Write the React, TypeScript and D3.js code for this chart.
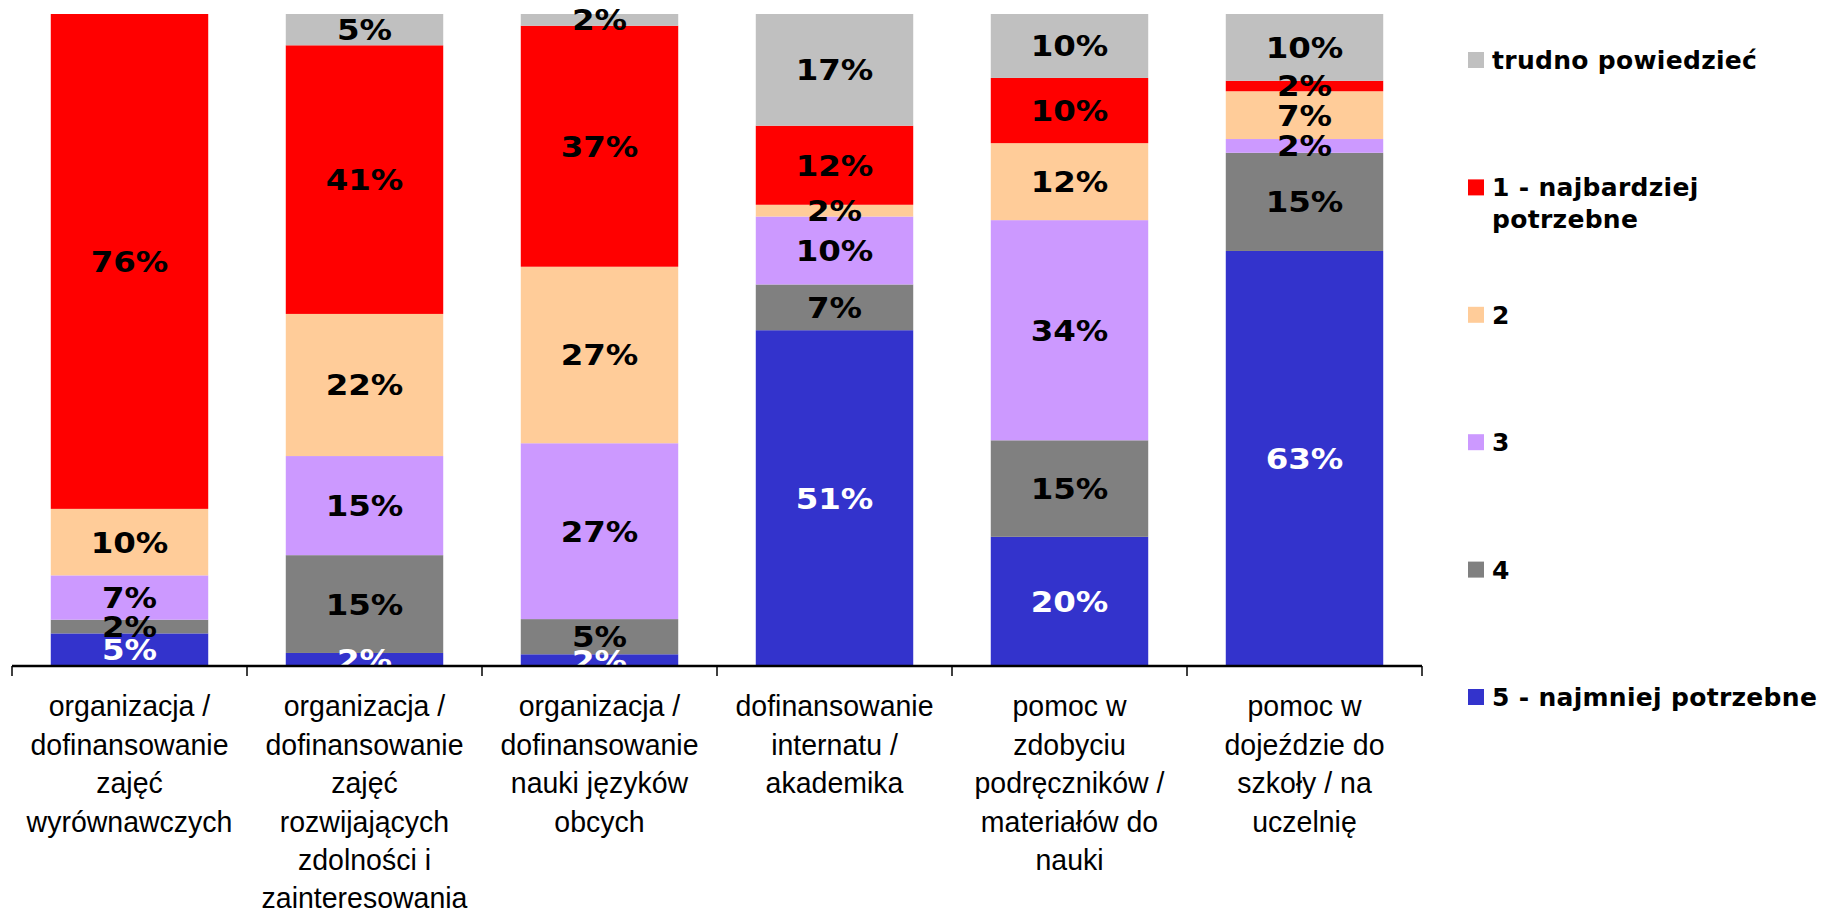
import React from "react";
import * as d3 from "d3";

const categories = [
  "organizacja / dofinansowanie zajęć wyrównawczych",
  "organizacja / dofinansowanie zajęć rozwijających zdolności i zainteresowania",
  "organizacja / dofinansowanie nauki języków obcych",
  "dofinansowanie internatu / akademika",
  "pomoc w zdobyciu podręczników / materiałów do nauki",
  "pomoc w dojeździe do szkoły / na uczelnię",
];

const categoryLines = [
  ["organizacja /", "dofinansowanie", "zajęć", "wyrównawczych"],
  ["organizacja /", "dofinansowanie", "zajęć", "rozwijających", "zdolności i", "zainteresowania"],
  ["organizacja /", "dofinansowanie", "nauki języków", "obcych"],
  ["dofinansowanie", "internatu /", "akademika"],
  ["pomoc w", "zdobyciu", "podręczników /", "materiałów do", "nauki"],
  ["pomoc w", "dojeździe do", "szkoły / na", "uczelnię"],
];

// series, bottom to top
const najmniejPotrzebne5 = [5.0, 2.0, 1.8, 51.4, 19.8, 63.4];
const ocena4 = [2.1, 15.0, 5.4, 7.0, 14.8, 15.0];
const ocena3 = [6.8, 15.2, 27.0, 10.4, 33.75, 2.1];
const ocena2 = [10.2, 21.8, 27.1, 1.8, 11.8, 7.3];
const najbardziejPotrzebne1 = [75.9, 41.2, 37.0, 12.1, 10.0, 1.6];
const trudnoPowiedziec = [0, 4.8, 1.8, 17.1, 9.8, 10.2];

const seriesKeys = ["s5", "s4", "s3", "s2", "s1", "t"];
const seriesValues = [najmniejPotrzebne5, ocena4, ocena3, ocena2, najbardziejPotrzebne1, trudnoPowiedziec];
const seriesNames = ["5 - najmniej potrzebne", "4", "3", "2", "1 - najbardziej potrzebne", "trudno powiedzieć"];
const seriesColors = ["#3333CC", "#808080", "#CC99FF", "#FFCC99", "#FF0000", "#C0C0C0"];
const labelColors = ["#FFFFFF", "#000000", "#000000", "#000000", "#000000", "#000000"];

// legend, top to bottom
const legendOrder = [5, 4, 3, 2, 1, 0];
const legendLines: Record<number, string[]> = {
  5: ["trudno powiedzieć"],
  4: ["1 - najbardziej", "potrzebne"],
  3: ["2"],
  2: ["3"],
  1: ["4"],
  0: ["5 - najmniej potrzebne"],
};

const W = 1825;
const H = 912;
const plotLeft = 12;
const plotRight = 1422;
const plotTop = 14;
const plotBottom = 666;

export default function App() {
  const rows = categories.map((c, i) => {
    const r: any = { cat: c };
    seriesKeys.forEach((k, j) => (r[k] = seriesValues[j][i]));
    return r;
  });
  const stack = d3.stack().keys(seriesKeys).offset(d3.stackOffsetExpand);
  const stacked = stack(rows);

  const x = d3
    .scaleBand()
    .domain(categories)
    .range([plotLeft, plotRight])
    .paddingInner(0.33)
    .paddingOuter(0.165);
  const y = d3.scaleLinear().domain([0, 1]).range([plotBottom, plotTop]);

  const step = x.step();
  const tickXs = categories.map((c) => (x(c) as number) - (step * 0.33) / 2);
  tickXs.push(plotRight);

  const labelFont = "'DejaVu Sans', Verdana, sans-serif";
  const axisFont = "'Liberation Sans', Arial, sans-serif";

  return (
    <div style={{ position: "absolute", left: 0, top: 0, width: W, height: H, overflow: "hidden", background: "#fff" }}>
      <svg width={W} height={H} viewBox={`0 0 ${W} ${H}`}>
        <defs>
          <clipPath id="plotClip">
            <rect x={0} y={0} width={plotRight + 10} height={plotBottom} />
          </clipPath>
        </defs>
        {stacked.map((layer, j) => (
          <g key={seriesKeys[j]} fill={seriesColors[j]}>
            {layer.map((d, i) => (
              <rect
                key={i}
                x={x(categories[i])}
                width={x.bandwidth()}
                y={y(d[1])}
                height={Math.max(0, y(d[0]) - y(d[1]))}
              />
            ))}
          </g>
        ))}
        <g clipPath="url(#plotClip)">
          {stacked.map((layer, j) =>
            layer.map((d, i) => {
              const v = seriesValues[j][i];
              if (!v) return null;
              const cx = (x(categories[i]) as number) + x.bandwidth() / 2;
              const cy = (y(d[0]) + y(d[1])) / 2;
              return (
                <text
                  key={`${j}-${i}`}
                  transform={`translate(${cx},${cy}) scale(1.12,1)`}
                  x={0}
                  y={0}
                  dy="0.36em"
                  textAnchor="middle"
                  fontFamily={labelFont}
                  fontWeight="bold"
                  fontSize={29}
                  fill={labelColors[j]}
                >
                  {Math.round(v)}%
                </text>
              );
            })
          )}
        </g>
        <line x1={plotLeft} x2={plotRight} y1={plotBottom} y2={plotBottom} stroke="#000" strokeWidth={2.5} />
        {tickXs.map((tx, i) => (
          <line key={i} x1={tx} x2={tx} y1={plotBottom} y2={plotBottom + 10} stroke="#000" strokeWidth={1.5} />
        ))}
        {categoryLines.map((lines, i) => {
          const cx = (x(categories[i]) as number) + x.bandwidth() / 2;
          return (
            <g key={i} transform={`translate(${cx},0) scale(0.95,1)`}>
              <text textAnchor="middle" fontFamily={axisFont} fontSize={30} fill="#000">
                {lines.map((ln, k) => (
                  <tspan key={k} x={0} y={716.5 + k * 38.4}>
                    {ln}
                  </tspan>
                ))}
              </text>
            </g>
          );
        })}
        {legendOrder.map((s, idx) => {
          const cy = 60 + idx * 127.4;
          return (
            <g key={s}>
              <rect x={1468} y={cy - 8} width={16} height={16} fill={seriesColors[s]} />
              <text fontFamily={labelFont} fontWeight="bold" fontSize={25} letterSpacing={0.3} fill="#000">
                {legendLines[s].map((ln, k) => (
                  <tspan key={k} x={1492} y={cy + k * 32} dy="0.36em">
                    {ln}
                  </tspan>
                ))}
              </text>
            </g>
          );
        })}
      </svg>
    </div>
  );
}
